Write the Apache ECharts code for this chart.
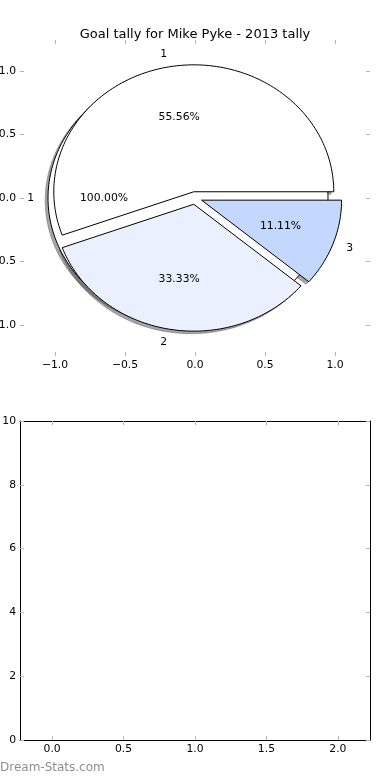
<!DOCTYPE html>
<html><head><meta charset="utf-8">
<script src="https://cdn.jsdelivr.net/npm/echarts@6/dist/echarts.min.js"></script>
<style>html,body{margin:0;padding:0;background:#fff}#c{width:390px;height:780px}</style>
</head><body><div id="c"></div>
<script>
const titleText = 'Goal tally for Mike Pyke - 2013 tally';
const pieCategories = ['1', '2', '3'];
const pieValues = [5, 3, 1];
const totalCategories = ['1'];
const totalValues = [9];
const pieAxisTicks = [-1, -0.5, 0, 0.5, 1];
const barXTicks = [0, 0.5, 1, 1.5, 2];
const barYTicks = [0, 2, 4, 6, 8, 10];
const watermarkText = 'Dream-Stats.com';

const pieFill = ['#ffffff', '#eaf0fd', '#c4d8fe'];
const totalFill = ['#ffffff'];
const EXPLODE = 0.05;
const FONT = 'DejaVu Sans';
const SMALL = 10.8;

function makeWedges(values, cats, fills) {
  const total = values.reduce((a, b) => a + b, 0);
  let start = 0;
  return values.map((v, i) => {
    const sweep = v / total * 360;
    const mid = (start + sweep / 2) * Math.PI / 180;
    const w = { start: start, end: start + sweep, frac: v / total, mid: mid,
      cx: EXPLODE * Math.cos(mid), cy: EXPLODE * Math.sin(mid), label: cats[i], fill: fills[i] };
    start += sweep;
    return w;
  });
}
const totalWedges = makeWedges(totalValues, totalCategories, totalFill);
const mainWedges = makeWedges(pieValues, pieCategories, pieFill);
const allWedges = totalWedges.concat(mainWedges);

function wedgePoints(api, w, dx, dy) {
  const ox = w.cx + dx, oy = w.cy + dy;
  const full = Math.abs(w.end - w.start - 360) < 1e-9;
  const pts = full ? [] : [api.coord([ox, oy])];
  const n = Math.max(4, Math.ceil((w.end - w.start) / 1.5));
  for (let k = 0; k <= (full ? n - 1 : n); k++) {
    const a = (w.start + (w.end - w.start) * k / n) * Math.PI / 180;
    pts.push(api.coord([ox + Math.cos(a), oy + Math.sin(a)]));
  }
  return pts;
}

function shadowRender(params, api) {
  const w = allWedges[params.dataIndex];
  return { type: 'polygon', shape: { points: wedgePoints(api, w, -0.02, -0.02) },
    style: { fill: 'rgba(77,77,77,0.5)', stroke: 'rgba(77,77,77,0.5)', lineWidth: 0.8 } };
}
function wedgeRenderer(list) {
  return function (params, api) {
    const w = list[params.dataIndex];
    return { type: 'polygon', shape: { points: wedgePoints(api, w, 0, 0) },
      style: { fill: w.fill, stroke: '#000', lineWidth: 1, lineJoin: 'miter' } };
  };
}
function labelRender(params, api) {
  const w = allWedges[params.dataIndex];
  const lx = w.cx + 1.1 * Math.cos(w.mid), ly = w.cy + 1.1 * Math.sin(w.mid);
  const lp = api.coord([lx, ly]);
  const pp = api.coord([w.cx + 0.6 * Math.cos(w.mid), w.cy + 0.6 * Math.sin(w.mid)]);
  return { type: 'group', children: [
    { type: 'text', style: { x: lp[0], y: lp[1], text: w.label, align: lx > 0 ? 'left' : 'right',
      verticalAlign: 'middle', fontSize: SMALL, fontFamily: FONT, fill: '#000' } },
    { type: 'text', style: { x: pp[0], y: pp[1], text: (w.frac * 100).toFixed(2) + '%', align: 'center',
      verticalAlign: 'middle', fontSize: SMALL, fontFamily: FONT, fill: '#000' } }
  ] };
}

const fmtDec = v => (v < 0 ? '\u2212' : '') + Math.abs(v).toFixed(1);
const tickStyle = { show: true, inside: true, length: 4, lineStyle: { color: '#b4b4b4', width: 1 } };
const labelStyle = { color: '#000', fontSize: SMALL, fontFamily: FONT };

function pieX(pos, showLabel) {
  return { gridIndex: 0, type: 'value', min: -1.25, max: 1.25, position: pos,
    axisLine: { show: false, onZero: false }, splitLine: { show: false },
    axisTick: Object.assign({ customValues: pieAxisTicks }, tickStyle),
    axisLabel: Object.assign({ show: showLabel, customValues: pieAxisTicks, formatter: fmtDec, margin: 4 }, labelStyle) };
}
function pieY(pos, showLabel) {
  return { gridIndex: 0, type: 'value', min: -1.245, max: 1.245, position: pos,
    axisLine: { show: false, onZero: false }, splitLine: { show: false },
    axisTick: Object.assign({ customValues: pieAxisTicks }, tickStyle),
    axisLabel: Object.assign({ show: showLabel, customValues: pieAxisTicks, formatter: fmtDec, margin: 4 }, labelStyle) };
}
function barX(pos, showLabel) {
  return { gridIndex: 1, type: 'value', min: -0.225, max: 2.225, position: pos,
    axisLine: { show: true, onZero: false, lineStyle: { color: '#000', width: 1 } }, splitLine: { show: false },
    axisTick: Object.assign({ customValues: barXTicks }, tickStyle),
    axisLabel: Object.assign({ show: showLabel, customValues: barXTicks, formatter: fmtDec, margin: 4 }, labelStyle) };
}
function barY(pos, showLabel) {
  return { gridIndex: 1, type: 'value', min: 0, max: 10, position: pos,
    axisLine: { show: true, onZero: false, lineStyle: { color: '#000', width: 1 } }, splitLine: { show: false },
    axisTick: Object.assign({ customValues: barYTicks }, tickStyle),
    axisLabel: Object.assign({ show: showLabel, customValues: barYTicks, formatter: v => String(v), margin: 4 }, labelStyle) };
}

const chart = echarts.init(document.getElementById('c'), null, { renderer: 'canvas' });
chart.setOption({
  animation: false,
  backgroundColor: '#fff',
  title: { text: titleText, left: 'center', top: 23,
    textStyle: { fontSize: 13, fontWeight: 'normal', fontFamily: FONT, color: '#000' } },
  grid: [
    { left: 20, top: 40, width: 350, height: 316, containLabel: false, outerBoundsMode: 'none' },
    { left: 20, top: 421, width: 350, height: 319, containLabel: false, outerBoundsMode: 'none' }
  ],
  xAxis: [pieX('bottom', true), pieX('top', false), barX('bottom', true), barX('top', false)],
  yAxis: [pieY('left', true), pieY('right', false), barY('left', true), barY('right', false)],
  graphic: [{ type: 'text', left: 0, top: 762,
    style: { text: watermarkText, fill: '#8e8e8e', fontSize: 12, fontFamily: FONT } }],
  series: [
    { type: 'custom', xAxisIndex: 0, yAxisIndex: 0, clip: false, z: 1,
      data: allWedges.map((w, i) => i), renderItem: shadowRender },
    { type: 'custom', xAxisIndex: 0, yAxisIndex: 0, clip: false, z: 2,
      data: totalWedges.map((w, i) => i), renderItem: wedgeRenderer(totalWedges) },
    { type: 'custom', xAxisIndex: 0, yAxisIndex: 0, clip: false, z: 3,
      data: mainWedges.map((w, i) => i), renderItem: wedgeRenderer(mainWedges) },
    { type: 'custom', xAxisIndex: 0, yAxisIndex: 0, clip: false, z: 4,
      data: allWedges.map((w, i) => i), renderItem: labelRender },
    { type: 'bar', xAxisIndex: 2, yAxisIndex: 2, data: [] }
  ]
});
</script></body></html>
